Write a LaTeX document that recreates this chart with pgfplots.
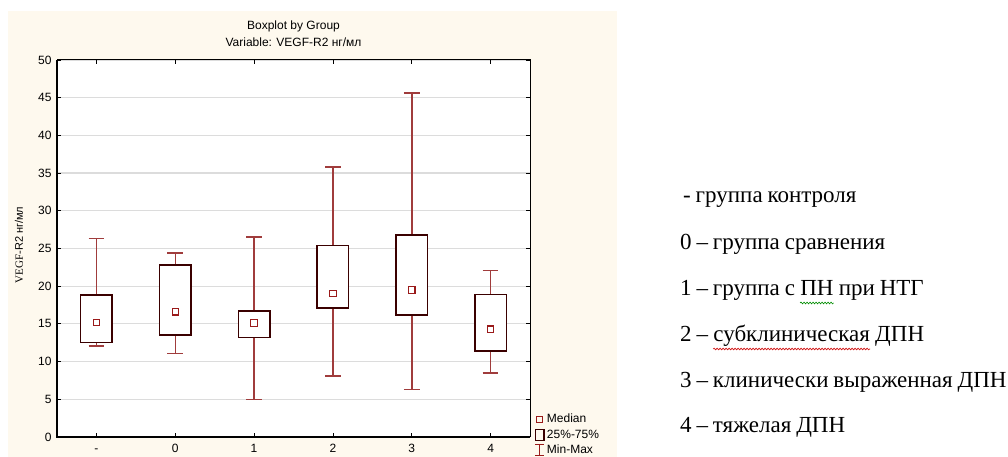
\documentclass[border=0pt]{standalone}
\usepackage{fontspec}
\setmainfont{Liberation Serif}
\setsansfont{Liberation Sans}
\newfontfamily\keyfont[WordSpace=0.85]{Liberation Serif}
\usepackage{pgfplots}
\pgfplotsset{compat=1.18}
\usepgfplotslibrary{statistics}
\usetikzlibrary{decorations.pathmorphing}
\definecolor{bgcream}{HTML}{FEF9EE}
\definecolor{boxcol}{HTML}{3A0000}
\definecolor{whiskcol}{HTML}{A03C3C}
\definecolor{medcol}{HTML}{9A1A1A}
\definecolor{gridcol}{HTML}{DCDCDC}
\begin{document}
\begin{tikzpicture}
\path[use as bounding box] (0pt,0pt) rectangle (1008pt,457pt);
\fill[bgcream] (8pt,0pt) rectangle (617pt,446pt);
\begin{axis}[
  at={(57pt,20pt)}, anchor=south west,
  scale only axis, width=473pt, height=377pt,
  xmin=-0.5, xmax=5.5, ymin=0, ymax=50,
  xtick={0,1,2,3,4,5}, xticklabels={-,0,1,2,3,4},
  ytick={0,5,...,50},
  axis background/.style={fill=white},
  ymajorgrids, grid style={draw=gridcol, line width=1.2pt},
  tick align=inside, major tick length=4pt,
  tick style={black, line width=0.8pt},
  axis line style={black, line width=1pt},
  /pgf/number format/assume math mode=true,
  tick label style={font=\sffamily\fontsize{12}{14}\selectfont},
  yticklabel style={xshift=-2pt},
  xticklabel style={anchor=base, yshift=-16pt},
  boxplot/draw direction=y,
  boxplot/every box/.style={draw=boxcol, line width=1.5pt, fill=white},
  boxplot/every whisker/.style={draw=whiskcol, line width=1.5pt},
  boxplot/every median/.style={draw=none},
  legend style={at={(axis description cs:1.008,-0.052)}, anchor=south west,
    draw=none, fill=none, inner sep=0pt,
    font=\sffamily\fontsize{12}{14}\selectfont,
    nodes={inner sep=1pt}, row sep=3.2pt},
  legend cell align=left,
  after end axis/.code={\draw[black, line width=2pt] (rel axis cs:0,1) -- (rel axis cs:0,0) -- (rel axis cs:1,0);},
]
\addplot[color=whiskcol, boxplot prepared={draw position=0, lower whisker=12.1, lower quartile=12.5, median=15.2, upper quartile=18.8, upper whisker=26.3, box extend=0.4, whisker extend=0.2}, forget plot] coordinates {};
\addplot[color=whiskcol, boxplot prepared={draw position=1, lower whisker=11.1, lower quartile=13.5, median=16.6, upper quartile=22.8, upper whisker=24.4, box extend=0.4, whisker extend=0.2}, forget plot] coordinates {};
\addplot[color=whiskcol, boxplot prepared={draw position=2, lower whisker=4.95, lower quartile=13.2, median=15.1, upper quartile=16.7, upper whisker=26.5, box extend=0.4, whisker extend=0.2}, forget plot] coordinates {};
\addplot[color=whiskcol, boxplot prepared={draw position=3, lower whisker=8.1, lower quartile=17.1, median=19.0, upper quartile=25.4, upper whisker=35.8, box extend=0.4, whisker extend=0.2}, forget plot] coordinates {};
\addplot[color=whiskcol, boxplot prepared={draw position=4, lower whisker=6.3, lower quartile=16.2, median=19.5, upper quartile=26.8, upper whisker=45.6, box extend=0.4, whisker extend=0.2}, forget plot] coordinates {};
\addplot[color=whiskcol, boxplot prepared={draw position=5, lower whisker=8.5, lower quartile=11.4, median=14.3, upper quartile=18.9, upper whisker=22.1, box extend=0.4, whisker extend=0.2}, forget plot] coordinates {};
\addplot[color=medcol, only marks, mark=square, mark size=3.2pt, mark options={draw=medcol, line width=1.1pt, fill=white}, forget plot]
  coordinates {(0,15.2) (1,16.6) (2,15.1) (3,19.0) (4,19.5) (5,14.3)};
\addlegendimage{legend image code/.code={\path[draw=none] (0pt,0pt) -- (12pt,0pt); \draw[medcol, line width=1pt] (2.5pt,-3pt) rectangle (8.5pt,3pt);}}
\addlegendentry{Median}
\addlegendimage{legend image code/.code={\path[draw=none] (0pt,0pt) -- (12pt,0pt); \draw[boxcol, line width=1.5pt] (1.5pt,-5.5pt) rectangle (10pt,5.5pt);}}
\addlegendentry{25\%-75\%}
\addlegendimage{legend image code/.code={\path[draw=none] (0pt,0pt) -- (12pt,0pt); \draw[medcol, line width=1pt] (1.5pt,-5.5pt) -- (10pt,-5.5pt) (5.75pt,-5.5pt) -- (5.75pt,5.5pt) (1.5pt,5.5pt) -- (10pt,5.5pt);}}
\addlegendentry{Min-Max}
\end{axis}
% titles
\node[anchor=base, font=\sffamily\fontsize{12}{14}\selectfont, inner sep=0pt] at (293.5pt,427pt) {Boxplot by Group};
\node[anchor=base, font=\sffamily\fontsize{12}{14}\selectfont, inner sep=0pt] at (293.5pt,410pt) {Variable: VEGF-R2 нг/мл};
\node[rotate=90, font=\sffamily\fontsize{11}{13}\selectfont, inner sep=0pt] at (19pt,212pt) {{\rmfamily VEGF-}R2 нг/мл};
% right-hand key
\begin{scope}[every node/.style={anchor=base west, inner sep=0pt, font=\keyfont\fontsize{23}{26}\selectfont}]
\node at (683pt,254pt) {- группа контроля};
\node at (680pt,207pt) {0 – группа сравнения};
\node (a1) at (680pt,161pt) {\mbox{1 – группа с\ }};
\node (a2) at (a1.base east) {ПН};
\node (a3) at (a2.base east) {\mbox{\ при НТГ}};
\node (b1) at (680pt,115pt) {\mbox{2 –\ }};
\node (b2) at (b1.base east) {субклиническая};
\node (b3) at (b2.base east) {\mbox{\ ДПН}};
\node at (680pt,69pt) {3 – клинически выраженная ДПН};
\node at (680pt,24pt) {4 – тяжелая ДПН};
\end{scope}
\draw[green!55!black, line width=0.6pt, decorate, decoration={snake, amplitude=0.9pt, segment length=3pt}] ([yshift=-7pt]a2.base west) -- ([yshift=-7pt]a2.base east);
\draw[red!80!black, line width=0.6pt, decorate, decoration={snake, amplitude=0.9pt, segment length=3pt}] ([yshift=-7pt]b2.base west) -- ([yshift=-7pt]b2.base east);
\end{tikzpicture}
\end{document}
